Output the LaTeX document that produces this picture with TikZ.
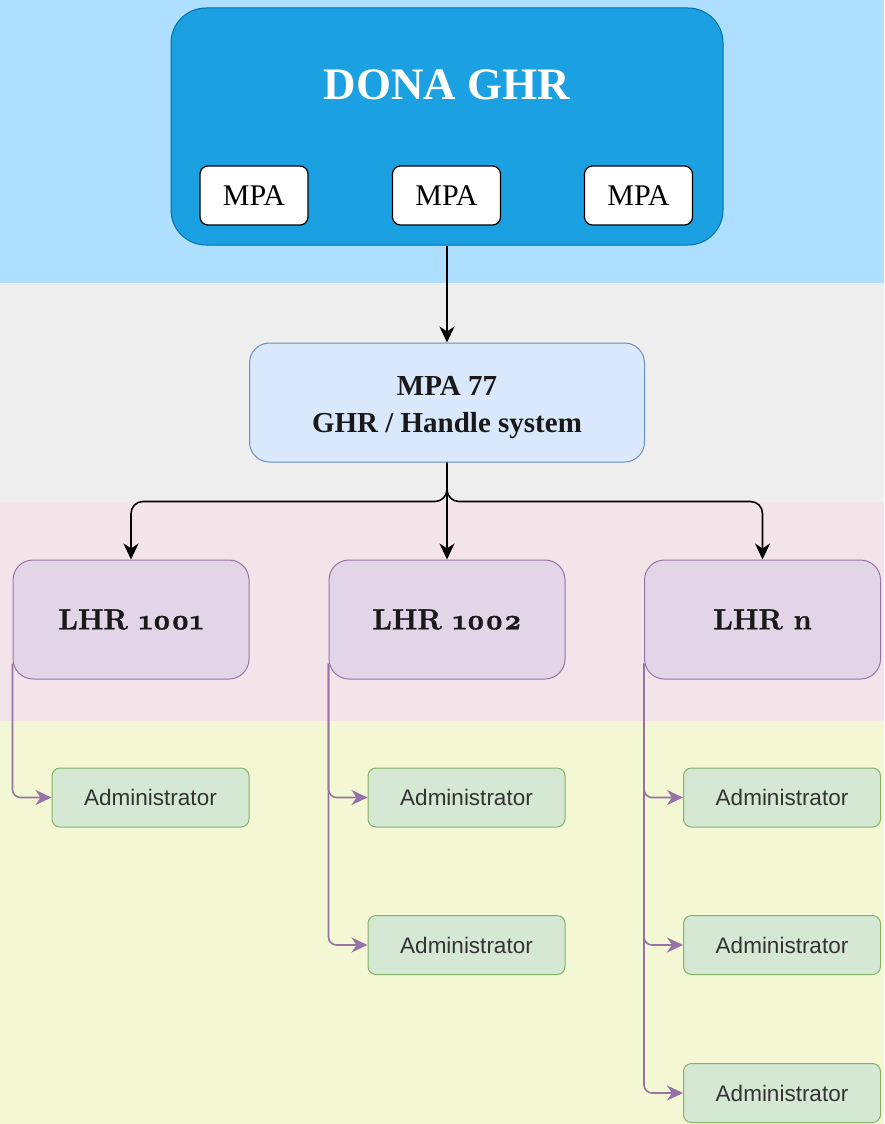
\documentclass[tikz,border=0pt]{standalone}
\usepackage{fontspec}
\setmainfont{Liberation Serif}
\newfontfamily\lhrfont[Numbers=OldStyle, BoldFeatures={FakeBold=1.2}]{Latin Modern Roman}
\newfontfamily\adminfont{Liberation Sans}
\usetikzlibrary{arrows.meta}
\definecolor{bandblue}{HTML}{AEDFFE}
\definecolor{bandgray}{HTML}{EEEEEE}
\definecolor{bandpink}{HTML}{F2E4E8}
\definecolor{bandyellow}{HTML}{F4F7D4}
\definecolor{donafill}{HTML}{1BA1E2}
\definecolor{donaline}{HTML}{006EAF}
\definecolor{ghrfill}{HTML}{DAE8FC}
\definecolor{ghrline}{HTML}{6C8EBF}
\definecolor{lhrfill}{HTML}{E1D5E7}
\definecolor{lhrline}{HTML}{9673A6}
\definecolor{admfill}{HTML}{D5E8D4}
\definecolor{admline}{HTML}{82B366}
\tikzset{
  donabox/.style={draw=donaline, fill=donafill, line width=1pt, rounded corners=35pt, minimum width=552pt, minimum height=237pt, inner sep=0pt},
  mpabox/.style={draw=black, fill=white, line width=1.2pt, rounded corners=8pt, minimum width=108pt, minimum height=59pt, inner sep=0pt, font=\fontsize{30}{34}\selectfont},
  ghrbox/.style={draw=ghrline, fill=ghrfill, line width=1pt, rounded corners=20pt, minimum width=395pt, minimum height=119pt, inner sep=0pt},
  ghrtext/.style={inner sep=0pt, align=center, font=\fontsize{29}{37}\selectfont\bfseries, text=black!90},
  lhrbox/.style={draw=lhrline, fill=lhrfill, line width=1pt, rounded corners=20pt, minimum width=236pt, minimum height=119pt, inner sep=0pt, font=\fontsize{29}{34}\selectfont\lhrfont\bfseries, text=black!90},
  admbox/.style={draw=admline, fill=admfill, line width=1pt, rounded corners=8pt, minimum width=197pt, minimum height=59pt, inner sep=0pt, font=\fontsize{22.5}{26}\selectfont\adminfont, text=black!80},
  blackarrow/.style={draw=black, line width=1.6pt, -{Stealth[length=16pt,width=15pt,inset=5pt]}},
  purplearrow/.style={draw=lhrline, line width=1.6pt, rounded corners=8pt, -{Stealth[length=16pt,width=15pt,inset=5pt]}}
}
\begin{document}
\begin{tikzpicture}[x=1pt,y=-1pt]
\useasboundingbox (0,0) rectangle (884,1124);
% bands
\fill[bandblue] (0,0) rectangle (884,283);
\fill[bandgray] (0,283) rectangle (884,502);
\fill[bandpink] (0,502) rectangle (884,721);
\fill[bandyellow] (0,721) rectangle (884,1124);
% DONA
\node[donabox] (dona) at (447,126.5) {};
\node[text=white, font=\fontsize{45}{50}\selectfont\bfseries, inner sep=0pt] (title) at (447,85) {DONA GHR};
\node[mpabox] (mpa1) at (254,195.5) {MPA};
\node[mpabox] (mpa2) at (446.5,195.5) {MPA};
\node[mpabox] (mpa3) at (638.5,195.5) {MPA};
% GHR
\node[ghrbox] (mpa77) at (447,402.5) {};
\node[ghrtext] (mpa77text) at (447,408) {MPA 77\\GHR / Handle system};
% LHR
\node[lhrbox] (l1) at (131,619.5) {LHR 1001};
\node[lhrbox] (l2) at (447,619.5) {LHR 1002};
\node[lhrbox] (l3) at (762.5,619.5) {LHR n};
% Admins
\node[admbox] (a11) at (150.5,797.5) {Administrator};
\node[admbox] (a21) at (466.5,797.5) {Administrator};
\node[admbox] (a22) at (466.5,945) {Administrator};
\node[admbox] (a31) at (782,797.5) {Administrator};
\node[admbox] (a32) at (782,945) {Administrator};
\node[admbox] (a33) at (782,1093) {Administrator};
% black connectors
\draw[blackarrow] (dona.south) -- (mpa77.north);
\draw[blackarrow] (mpa77.south) -- (l2.north);
\draw[blackarrow, rounded corners=12pt] (mpa77.south) -- ++(0,39) -| (l1.north);
\draw[blackarrow, rounded corners=12pt] (mpa77.south) -- ++(0,39) -| (l3.north);
% purple connectors
\draw[purplearrow] ([yshift=16pt]l1.south west) |- (a11.west);
\draw[purplearrow] ([yshift=16pt]l2.south west) |- (a21.west);
\draw[purplearrow] ([yshift=16pt]l2.south west) |- (a22.west);
\draw[purplearrow] ([yshift=16pt]l3.south west) |- (a31.west);
\draw[purplearrow] ([yshift=16pt]l3.south west) |- (a32.west);
\draw[purplearrow] ([yshift=16pt]l3.south west) |- (a33.west);
\end{tikzpicture}
\end{document}
